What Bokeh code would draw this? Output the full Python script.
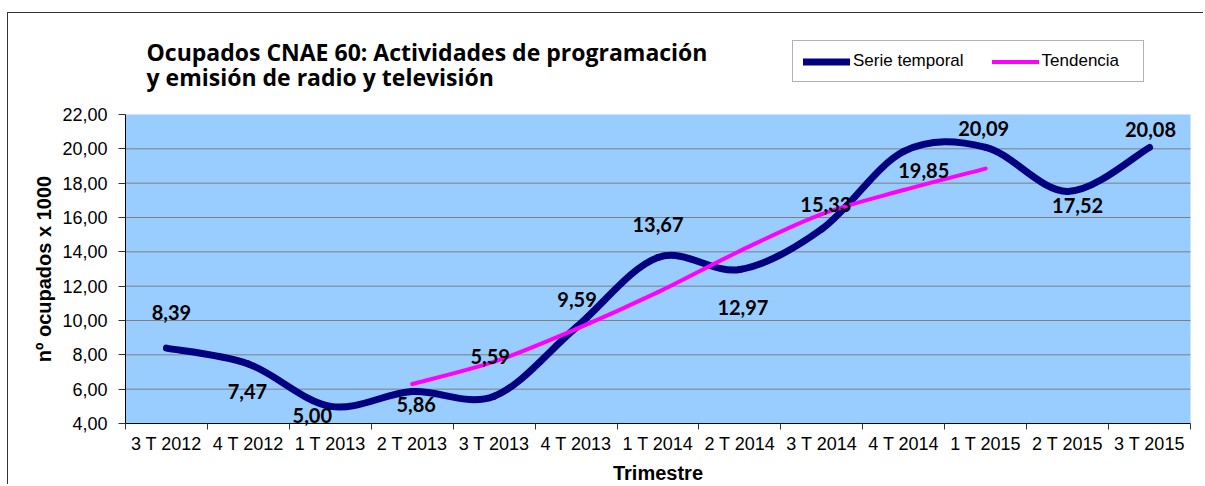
import math
from bokeh.plotting import figure
from bokeh.models import (ColumnDataSource, FixedTicker, LabelSet, Label,
                          Legend, LegendItem, Range1d, BoxAnnotation)
from bokeh.core.properties import value
from bokeh.embed import file_html
from bokeh.resources import INLINE

# ---------------- data ----------------
categories = ["3 T 2012", "4 T 2012", "1 T 2013", "2 T 2013", "3 T 2013",
              "4 T 2013", "1 T 2014", "2 T 2014", "3 T 2014", "4 T 2014",
              "1 T 2015", "2 T 2015", "3 T 2015"]
serie_temporal = [8.39, 7.47, 5.00, 5.86, 5.59, 9.59, 13.67, 12.97,
                  15.33, 19.85, 20.09, 17.52, 20.08]
tendencia_categories = ["2 T 2013", "3 T 2013", "4 T 2013", "1 T 2014",
                        "2 T 2014", "3 T 2014", "4 T 2014", "1 T 2015"]
tendencia = [6.30, 7.60, 9.50, 11.65, 14.05, 16.20, 17.60, 18.85]
y_ticks = [4, 6, 8, 10, 12, 14, 16, 18, 20, 22]

# label offsets in pixels (style only): right / up
label_dx = [5, -1, -18, 4, -4, 1, 0, 3, 4, 20, -2, 10, 1]
label_dy = [36, -28, -9, -13, 40, 28, 33, -38, 25, -19, 19, -14, 18]

NAVY = "#000080"
MAGENTA = "#FF00FF"
BLUE_BG = "#99CCFF"

# ---------------- layout (pixels inside the figure) ----------------
W, H = 1196, 472
PA_LEFT, PA_RIGHT = 117, 1182      # plotting-area edges
PA_TOP, PA_BOTTOM = 101, 410

n = len(categories)
x_lo, x_hi = -0.5, n - 0.5
y_lo, y_hi = y_ticks[0], y_ticks[-1]
sx = (PA_RIGHT - PA_LEFT) / (x_hi - x_lo)
sy = (PA_BOTTOM - PA_TOP) / (y_hi - y_lo)
x_start = x_lo - PA_LEFT / sx
x_end = x_start + W / sx
y_end = y_hi + PA_TOP / sy
y_start = y_end - H / sy


def px(xpix):
    return x_start + xpix / sx


def py(ypix):
    return y_end - ypix / sy


def comma(v):
    return f"{v:.2f}".replace(".", ",")


def smooth(xs, ys):
    """Bezier control points (Catmull-Rom, like a spreadsheet 'smoothed line')."""
    m = len(xs)
    d = {k: [] for k in ("x0", "y0", "x1", "y1", "cx0", "cy0", "cx1", "cy1")}
    for i in range(m - 1):
        a = max(i - 1, 0)
        b = min(i + 2, m - 1)
        d["x0"].append(xs[i]); d["y0"].append(ys[i])
        d["x1"].append(xs[i + 1]); d["y1"].append(ys[i + 1])
        d["cx0"].append(xs[i] + (xs[i + 1] - xs[a]) / 6.0)
        d["cy0"].append(ys[i] + (ys[i + 1] - ys[a]) / 6.0)
        d["cx1"].append(xs[i + 1] - (xs[b] - xs[i]) / 6.0)
        d["cy1"].append(ys[i + 1] - (ys[b] - ys[i]) / 6.0)
    return ColumnDataSource(d)


xs = list(range(n))
xt = [categories.index(c) for c in tendencia_categories]

p = figure(width=W, height=H, output_backend="svg", toolbar_location=None,
           x_range=Range1d(x_start, x_end), y_range=Range1d(y_start, y_end),
           min_border_left=0, min_border_right=0,
           min_border_top=0, min_border_bottom=0,
           background_fill_color="white", border_fill_color="white",
           outline_line_color=None,
           margin=(12, 0, 0, 7),
           styles={"border-left": "1px solid #333333",
                   "border-top": "1px solid #333333"})

# plotting area background
p.add_layout(BoxAnnotation(left=x_lo, right=x_hi, bottom=y_lo, top=y_hi,
                           fill_color=BLUE_BG, fill_alpha=1, line_color=None,
                           level="underlay"))

# horizontal grid lines
p.xgrid.visible = False
p.ygrid.visible = False
grid_vals = y_ticks[1:-1]
p.segment(x0=[x_lo] * len(grid_vals), x1=[x_hi] * len(grid_vals),
          y0=grid_vals, y1=grid_vals, line_color="#7f7f7f", line_width=1)

# x axis
xa = p.xaxis[0]
xa.fixed_location = y_lo
xa.bounds = (x_lo, x_hi)
xa.ticker = FixedTicker(ticks=xs, minor_ticks=[i - 0.5 for i in range(n + 1)])
xa.major_label_overrides = {i: c for i, c in enumerate(categories)}
xa.major_tick_line_color = None
xa.major_tick_out = 6
xa.major_tick_in = 0
xa.minor_tick_in = 0
xa.minor_tick_out = 6
xa.minor_tick_line_color = "#333333"
xa.major_label_standoff = 4

# y axis
ya = p.yaxis[0]
ya.fixed_location = x_lo
ya.bounds = (y_lo, y_hi)
ya.ticker = FixedTicker(ticks=y_ticks)
ya.major_label_overrides = {t: comma(t) for t in y_ticks}
ya.minor_tick_line_color = None
ya.major_tick_out = 7
ya.major_tick_in = 0
ya.major_tick_line_color = "#333333"
ya.major_label_standoff = 11

for ax in (xa, ya):
    ax.axis_line_color = "black"
    ax.axis_line_width = 1
    ax.major_label_text_font = "Liberation Sans"
    ax.major_label_text_font_size = "18px"
    ax.major_label_text_color = "black"

# axis titles
p.add_layout(Label(x=px(35), y=(y_lo + y_hi) / 2, text="nº ocupados x 1000",
                   angle=math.pi / 2, text_align="center", text_baseline="middle",
                   text_font="Liberation Sans", text_font_style="bold",
                   text_font_size="20px", text_color="black"))
p.add_layout(Label(x=(x_lo + x_hi) / 2, y=py(459), text="Trimestre",
                   text_align="center", text_baseline="middle",
                   text_font="Liberation Sans", text_font_style="bold",
                   text_font_size="20px", text_color="black"))

# series
r_serie = p.bezier(x0="x0", y0="y0", x1="x1", y1="y1", cx0="cx0", cy0="cy0",
                   cx1="cx1", cy1="cy1", source=smooth(xs, serie_temporal),
                   line_color=NAVY, line_width=7, line_cap="round")
r_tend = p.bezier(x0="x0", y0="y0", x1="x1", y1="y1", cx0="cx0", cy0="cy0",
                  cx1="cx1", cy1="cy1", source=smooth(xt, tendencia),
                  line_color=MAGENTA, line_width=4, line_cap="round")

# data labels
lbl_src = ColumnDataSource(dict(x=xs, y=serie_temporal,
                                text=[comma(v) for v in serie_temporal],
                                dx=label_dx, dy=label_dy))
p.add_layout(LabelSet(x="x", y="y", text="text", source=lbl_src,
                      x_offset="dx", y_offset="dy",
                      text_align="center", text_baseline="middle",
                      text_font=value("Lato"), text_font_style="bold",
                      text_font_size="20px", text_color="black"))

# title (two lines)
title_lines = ["Ocupados CNAE 60: Actividades de programación",
               "y emisión de radio y televisión"]
for txt, base in zip(title_lines, [38.0, 63.5]):
    p.add_layout(Label(x=px(138), y=py(base), text=txt, text_font="Open Sans",
                       text_font_style="bold", text_font_size="23px",
                       text_color="black", text_baseline="alphabetic",
                       text_align="left"))

# legend
legend = Legend(items=[LegendItem(label="Serie temporal", renderers=[r_serie]),
                       LegendItem(label="Tendencia", renderers=[r_tend])],
                orientation="horizontal", location=(784, H - 69),
                glyph_width=47, glyph_height=19, label_height=19,
                label_width=91, label_standoff=3, spacing=28, padding=10,
                margin=0,
                label_text_font="Liberation Sans", label_text_font_size="17px",
                label_text_color="black",
                border_line_color="#666666", border_line_width=1,
                background_fill_color="white", background_fill_alpha=1)
p.add_layout(legend)

open("out.html", "w").write(file_html(p, INLINE))
